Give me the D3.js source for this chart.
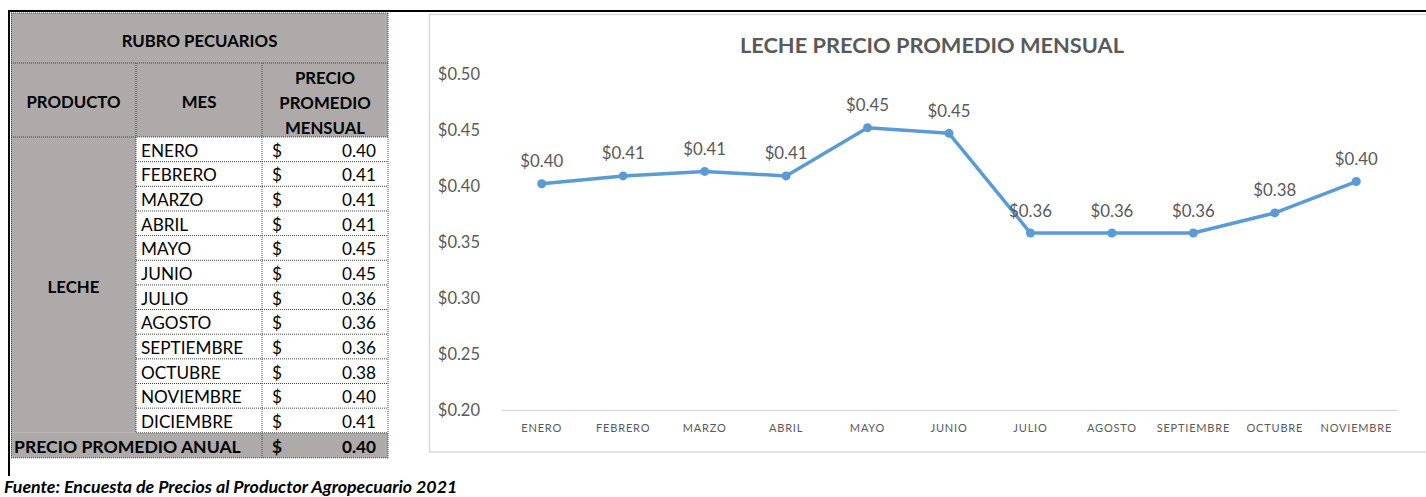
<!DOCTYPE html>
<html>
<head>
<meta charset="utf-8">
<script src="https://cdn.jsdelivr.net/npm/d3@7"></script>
<style>
  html, body { margin: 0; padding: 0; background: #fff; }
  svg { display: block; }
  text { font-family: Lato, "Open Sans", sans-serif; }
</style>
</head>
<body>
<svg id="page" width="1426" height="497"></svg>
<script>
// Monthly average farm-gate milk price (USD per litre), 2021
const months = ["ENERO", "FEBRERO", "MARZO", "ABRIL", "MAYO", "JUNIO", "JULIO",
                "AGOSTO", "SEPTIEMBRE", "OCTUBRE", "NOVIEMBRE", "DICIEMBRE"];
const prices = [0.402, 0.409, 0.413, 0.409, 0.452, 0.447, 0.358,
                0.358, 0.358, 0.376, 0.404, 0.412];
// The chart plots January through November
const chartMonths = months.slice(0, 11);
const chartPrices = prices.slice(0, 11);
const yTicks = [0.20, 0.25, 0.30, 0.35, 0.40, 0.45, 0.50];

const tableTitle = "RUBRO PECUARIOS";
const headers = ["PRODUCTO", "MES", ["PRECIO", "PROMEDIO", "MENSUAL"]];
const product = "LECHE";
const annualLabel = "PRECIO PROMEDIO ANUAL";
const chartTitle = "LECHE PRECIO PROMEDIO MENSUAL";
const source = "Fuente: Encuesta de Precios al Productor Agropecuario 2021";

const svg = d3.select("#page");
const money = d3.format("$.2f");
const num = d3.format(".2f");
const annual = d3.mean(prices);

// ---------- page frame ----------
svg.append("line").attr("x1", 8).attr("x2", 1426).attr("y1", 11).attr("y2", 11)
  .attr("stroke", "#000").attr("stroke-width", 2);
svg.append("line").attr("x1", 9).attr("x2", 9).attr("y1", 10).attr("y2", 476)
  .attr("stroke", "#000").attr("stroke-width", 2);

// ---------- table ----------
const tb = { x0: 11, x1: 136, x2: 262, x3: 388, top: 13, hdr1: 63, hdr2: 137, rowH: 24.65 };
const rowY = i => tb.hdr2 + i * tb.rowH;
const totalTop = rowY(months.length);
const totalBot = totalTop + 25;
const gray = "#aeaaaa";
const dotted = { stroke: "#444", "stroke-width": 1, "stroke-dasharray": "1,1" };

const T = svg.append("g");
// gray areas
T.append("rect").attr("x", tb.x0).attr("y", tb.top).attr("width", tb.x3 - tb.x0)
  .attr("height", tb.hdr2 - tb.top).attr("fill", gray);
T.append("rect").attr("x", tb.x0).attr("y", tb.hdr2).attr("width", tb.x1 - tb.x0)
  .attr("height", totalTop - tb.hdr2).attr("fill", gray);
T.append("rect").attr("x", tb.x0).attr("y", totalTop).attr("width", tb.x3 - tb.x0)
  .attr("height", totalBot - totalTop).attr("fill", gray);

function dline(x1, y1, x2, y2) {
  const l = T.append("line").attr("x1", x1).attr("y1", y1).attr("x2", x2).attr("y2", y2);
  Object.entries(dotted).forEach(([k, v]) => l.attr(k, v));
}
// outer border
dline(tb.x0, tb.top, tb.x3, tb.top);
dline(tb.x0, totalBot, tb.x3, totalBot);
dline(tb.x0 + 0.5, tb.top, tb.x0 + 0.5, totalBot);
dline(tb.x3, tb.top, tb.x3, totalBot);
// header lines
dline(tb.x0, tb.hdr1, tb.x3, tb.hdr1);
dline(tb.x0, tb.hdr2, tb.x3, tb.hdr2);
dline(tb.x1, tb.hdr1, tb.x1, totalTop);
dline(tb.x2, tb.hdr1, tb.x2, totalBot);
// data row lines
months.forEach((m, i) => dline(tb.x1, rowY(i + 1), tb.x3, rowY(i + 1)));

const txt = (x, y, s, o = {}) => T.append("text").attr("x", x).attr("y", y)
  .attr("dominant-baseline", "central")
  .attr("text-anchor", o.anchor || "start")
  .attr("font-size", o.size || 17.2)
  .attr("font-weight", o.bold ? 700 : 400)
  .attr("fill", "#000").text(s);

txt((tb.x0 + tb.x3) / 2, 40, tableTitle, { anchor: "middle", bold: true, size: 16.8 });
txt((tb.x0 + tb.x1) / 2, 101, headers[0], { anchor: "middle", bold: true, size: 16.8 });
txt((tb.x1 + tb.x2) / 2, 101, headers[1], { anchor: "middle", bold: true, size: 16.8 });
headers[2].forEach((h, i) =>
  txt((tb.x2 + tb.x3) / 2, 77 + i * 25, h, { anchor: "middle", bold: true, size: 16.8 }));
txt((tb.x0 + tb.x1) / 2, 286, product, { anchor: "middle", bold: true, size: 16.8 });

months.forEach((m, i) => {
  const cy = rowY(i) + tb.rowH / 2 + 1;
  txt(tb.x1 + 5, cy, m);
  txt(tb.x2 + 10, cy, "$");
  txt(tb.x3 - 12, cy, num(prices[i]), { anchor: "end" });
});
const ty = (totalTop + totalBot) / 2 + 1;
txt(tb.x0 + 3, ty, annualLabel, { bold: true, size: 17.6 });
txt(tb.x2 + 10, ty, "$", { bold: true });
txt(tb.x3 - 12, ty, num(annual), { anchor: "end", bold: true });

// source note
svg.append("text").attr("x", 4).attr("y", 485.5).attr("dominant-baseline", "central")
  .attr("font-size", 17.8).attr("font-weight", 700).attr("font-style", "italic")
  .attr("fill", "#000").text(source);

// ---------- line chart ----------
svg.append("rect").attr("x", 429.5).attr("y", 14.5).attr("width", 1010).attr("height", 437.5)
  .attr("fill", "#fff").attr("stroke", "#d9d9d9").attr("stroke-width", 1.5);

svg.append("text").attr("x", 932).attr("y", 44).attr("text-anchor", "middle")
  .attr("dominant-baseline", "central").attr("font-size", 21.8).attr("font-weight", 700)
  .attr("fill", "#595959").text(chartTitle);

const x = d3.scaleBand().domain(chartMonths).range([501, 1397]);
const y = d3.scaleLinear().domain([0.20, 0.50]).range([410, 74]);
const cx = m => x(m) + x.bandwidth() / 2;

// value axis (labels only)
const yAxis = svg.append("g").attr("transform", "translate(480,0)")
  .call(d3.axisLeft(y).tickValues(yTicks).tickFormat(money).tickSize(0).tickPadding(0));
yAxis.select(".domain").remove();
yAxis.selectAll("text").attr("font-size", 16.5).attr("fill", "#595959")
  .attr("font-family", "Lato, 'Open Sans', sans-serif");

// category axis
const xAxis = svg.append("g").attr("transform", "translate(0,410)")
  .call(d3.axisBottom(x).tickSize(0).tickPadding(14));
xAxis.select(".domain").attr("stroke", "#d9d9d9").attr("stroke-width", 1.5);
xAxis.selectAll("text").attr("font-size", 11).attr("fill", "#595959")
  .attr("letter-spacing", "0.8px")
  .attr("font-family", "Lato, 'Open Sans', sans-serif");

const pts = chartMonths.map((m, i) => ({ m, v: chartPrices[i] }));

svg.append("path").datum(pts)
  .attr("fill", "none").attr("stroke", "#5b9bd5").attr("stroke-width", 3.5)
  .attr("stroke-linejoin", "round")
  .attr("d", d3.line().x(d => cx(d.m)).y(d => y(d.v)));

svg.append("g").selectAll("circle").data(pts).join("circle")
  .attr("cx", d => cx(d.m)).attr("cy", d => y(d.v)).attr("r", 4.5)
  .attr("fill", "#5b9bd5");

svg.append("g").selectAll("text").data(pts).join("text")
  .attr("x", d => cx(d.m)).attr("y", d => y(d.v) - 23)
  .attr("text-anchor", "middle").attr("dominant-baseline", "central")
  .attr("font-size", 16.8).attr("fill", "#595959")
  .text(d => money(d.v));
</script>
</body>
</html>
